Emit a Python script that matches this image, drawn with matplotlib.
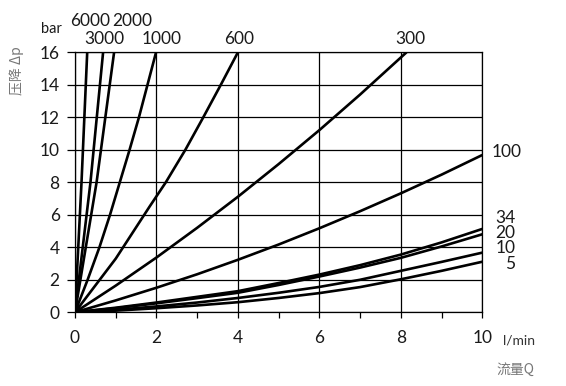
import matplotlib
matplotlib.use("Agg")
import matplotlib.pyplot as plt

# flow Q (l/min) vs pressure drop dp (bar), one curve per viscosity
q_6000 = [0, 0.16, 0.30]
dp_6000 = [0, 8, 16]
q_3000 = [0, 0.38, 0.69]
dp_3000 = [0, 8, 16]
q_2000 = [0, 0.53, 0.96]
dp_2000 = [0, 8, 16]
q_1000 = [0, 0.31, 0.60, 0.86, 1.10, 1.34, 1.57, 1.78, 1.99]
dp_1000 = [0, 2, 4, 6, 8, 10, 12, 14, 16]
q_600 = [0, 1.0, 1.83, 2.23, 2.71, 3.15, 3.58, 4.0]
dp_600 = [0, 3.3, 6.5, 8, 10, 12, 14, 16]
q_300 = [0, 1, 2, 3, 4, 5, 6, 7, 8.14]
dp_300 = [0, 1.64, 3.37, 5.20, 7.11, 9.12, 11.21, 13.40, 16.0]

q_low = [0, 1, 2, 3, 4, 5, 6, 7, 8, 9, 10]
dp_100 = [0, 0.73, 1.51, 2.34, 3.23, 4.17, 5.17, 6.22, 7.32, 8.47, 9.68]
dp_34 = [0, 0.28, 0.60, 0.95, 1.30, 1.80, 2.32, 2.90, 3.55, 4.30, 5.13]
dp_20 = [0, 0.25, 0.55, 0.87, 1.20, 1.68, 2.20, 2.75, 3.35, 4.05, 4.80]
dp_10 = [0, 0.15, 0.36, 0.60, 0.88, 1.20, 1.56, 2.00, 2.55, 3.10, 3.67]
dp_5 = [0, 0.10, 0.25, 0.42, 0.62, 0.88, 1.18, 1.55, 2.03, 2.55, 3.11]

curves = [
    (q_6000, dp_6000), (q_3000, dp_3000), (q_2000, dp_2000),
    (q_1000, dp_1000), (q_600, dp_600), (q_300, dp_300),
    (q_low, dp_100), (q_low, dp_34), (q_low, dp_20),
    (q_low, dp_10), (q_low, dp_5),
]

x_ticks = [0, 2, 4, 6, 8, 10]
y_ticks = [0, 2, 4, 6, 8, 10, 12, 14, 16]

num_font = ["Lato", "DejaVu Sans"]
cjk_font = ["Noto Sans CJK SC", "DejaVu Sans"]
plt.rcParams['font.family'] = num_font

fig = plt.figure(figsize=(5.66, 3.86), dpi=100)
ax = fig.add_axes([0.1325, 0.191, 0.7196, 0.6735])

for q, dp in curves:
    ax.plot(q, dp, color="black", lw=1.9, solid_capstyle="butt",
            solid_joinstyle="round", zorder=3)

ax.set_xlim(0, 10)
ax.set_ylim(0, 16)
ax.set_xticks(x_ticks)
ax.set_xticks([1, 3, 5, 7, 9], minor=True)
ax.set_yticks(y_ticks)
ax.grid(True, which="major", color="black", lw=0.9)
for s in ax.spines.values():
    s.set_linewidth(0.9)
ax.tick_params(axis="x", which="both", direction="out", length=4, width=0.9,
               pad=9, labelsize=12.5, labelcolor="#1a1a1a")
ax.tick_params(axis="y", direction="out", length=6, width=0.9,
               pad=5, labelsize=12.5, labelcolor="#1a1a1a")

# curve labels
kw = dict(fontsize=12.5, color="#1a1a1a", va="center", clip_on=False)
ax.text(0.36, 17.9, "6000", ha="center", **kw)
ax.text(1.40, 17.9, "2000", ha="center", **kw)
ax.text(0.72, 16.82, "3000", ha="center", **kw)
ax.text(2.12, 16.82, "1000", ha="center", **kw)
ax.text(4.02, 16.82, "600", ha="center", **kw)
ax.text(8.24, 16.82, "300", ha="center", **kw)
ax.text(10.22, 9.86, "100", ha="left", **kw)
ax.text(10.81, 5.80, "34", ha="right", **kw)
ax.text(10.81, 4.88, "20", ha="right", **kw)
ax.text(10.81, 3.96, "10", ha="right", **kw)
ax.text(10.81, 2.97, "5", ha="right", **kw)

ax.text(-0.59, 17.45, "bar", ha="center", va="center", fontsize=10.5,
        color="#1a1a1a", clip_on=False)
ax.text(10.51, -1.72, "l/min", ha="left", va="center", fontsize=10,
        color="#333333", clip_on=False)
ax.text(10.81, -3.55, "流量Q", ha="center", va="center", fontsize=10,
        family=cjk_font, color="#777777", clip_on=False)
ax.text(-1.42, 14.9, "压降 Δp", ha="center", va="center", rotation=90,
        fontsize=10, family=cjk_font, color="#777777", clip_on=False)

fig.savefig("out.png", dpi=100)
